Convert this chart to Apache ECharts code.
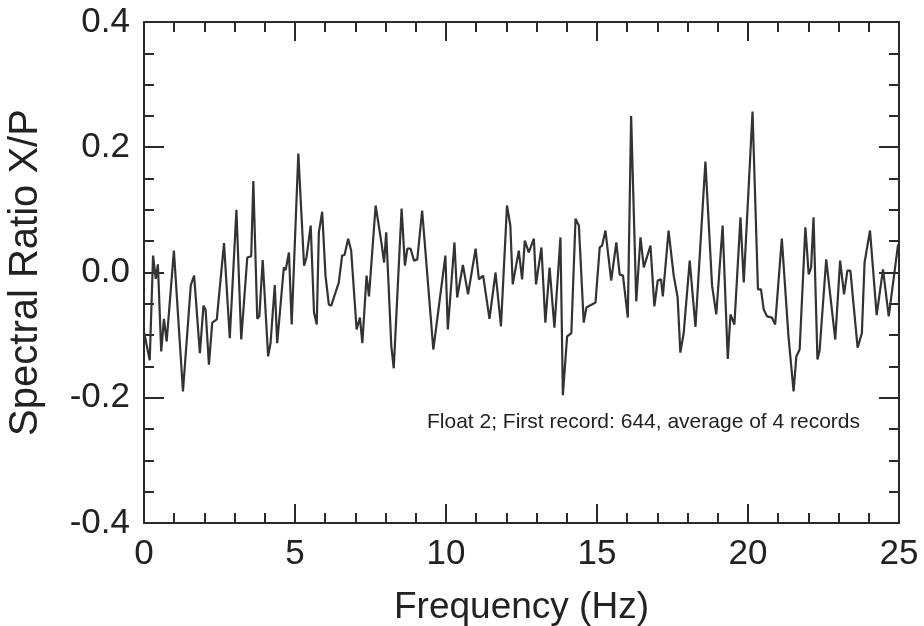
<!DOCTYPE html>
<html>
<head>
<meta charset="utf-8">
<script src="https://cdn.jsdelivr.net/npm/echarts@6/dist/echarts.min.js"></script>
<style>html,body{margin:0;padding:0;background:#fff}#c{width:924px;height:626px}</style>
</head>
<body>
<div id="c"></div>
<script>
// Frequency (Hz) of each vertex of the trace
var freqs = [
0.00,0.19,0.30,0.39,0.46,0.57,0.66,0.75,0.99,1.29,1.55,1.66,1.85,1.97,2.04,2.15,2.26,2.41,2.65,2.84,
3.06,3.22,3.42,3.55,3.62,3.75,3.82,3.93,4.11,4.19,4.33,4.41,4.63,4.69,4.80,4.89,5.11,5.30,5.38,5.52,
5.63,5.72,5.79,5.90,6.01,6.12,6.20,6.45,6.56,6.64,6.76,6.86,7.04,7.15,7.23,7.37,7.45,7.67,7.86,7.95,
8.02,8.19,8.27,8.53,8.64,8.72,8.83,8.94,9.05,9.21,9.58,9.98,10.06,10.28,10.37,10.56,10.73,10.98,11.09,11.23,
11.44,11.64,11.82,12.02,12.13,12.21,12.41,12.52,12.61,12.74,12.80,12.91,12.98,13.16,13.29,13.43,13.59,13.79,13.87,14.01,
14.15,14.29,14.40,14.56,14.65,14.95,15.09,15.17,15.28,15.47,15.64,15.75,15.86,16.02,16.13,16.30,16.44,16.55,16.77,16.90,
17.01,17.12,17.18,17.37,17.54,17.67,17.76,17.87,18.07,18.26,18.59,18.81,18.95,19.16,19.33,19.42,19.55,19.75,19.86,20.15,
20.33,20.43,20.52,20.63,20.79,20.90,21.12,21.34,21.51,21.60,21.71,21.90,22.01,22.09,22.17,22.30,22.37,22.59,22.89,23.05,
23.18,23.29,23.39,23.63,23.77,23.86,24.04,24.26,24.47,24.66,24.97
];
// Spectral ratio X/P at each vertex
var ratios = [
-0.095,-0.140,0.027,-0.010,0.013,-0.126,-0.074,-0.110,0.035,-0.190,-0.020,-0.005,-0.129,-0.053,-0.060,-0.147,-0.080,-0.075,0.047,-0.105,
0.100,-0.107,0.024,0.026,0.146,-0.074,-0.070,0.020,-0.134,-0.113,-0.020,-0.113,0.008,0.004,0.032,-0.083,0.190,0.011,0.024,0.075,
-0.064,-0.083,0.064,0.097,-0.005,-0.051,-0.053,-0.016,0.027,0.028,0.054,0.035,-0.091,-0.072,-0.113,-0.005,-0.038,0.107,0.048,0.016,
0.064,-0.118,-0.153,0.102,0.011,0.038,0.038,0.019,0.021,0.099,-0.123,0.027,-0.091,0.048,-0.040,0.012,-0.035,0.038,-0.011,-0.005,
-0.074,0.000,-0.086,0.107,0.075,-0.019,0.035,-0.011,0.051,0.032,0.030,0.054,-0.019,0.040,-0.080,0.008,-0.088,0.056,-0.196,-0.102,
-0.097,0.086,0.075,-0.080,-0.056,-0.048,0.040,0.043,0.067,-0.013,0.048,-0.003,-0.005,-0.072,0.250,-0.046,0.056,0.008,0.043,-0.054,
-0.013,-0.011,-0.038,0.067,-0.005,-0.040,-0.128,-0.097,0.019,-0.087,0.177,-0.021,-0.067,0.075,-0.138,-0.067,-0.083,0.088,-0.016,0.257,
-0.027,-0.027,-0.059,-0.070,-0.072,-0.083,0.054,-0.102,-0.190,-0.134,-0.123,0.072,-0.003,0.008,0.088,-0.139,-0.125,0.021,-0.107,0.019,
-0.035,0.003,0.003,-0.120,-0.097,0.016,0.067,-0.068,0.005,-0.070,0.045
];
var xTicks = [0, 5, 10, 15, 20, 25];
var yTicks = [-0.4, -0.2, 0.0, 0.2, 0.4];
var annotation = 'Float 2; First record: 644, average of 4 records';

var font = 'Liberation Sans, Arial, Helvetica, sans-serif';
var axisCol = '#2a2a2a';
var data = freqs.map(function (f, i) { return [f, ratios[i]]; });

function xAxisCfg(show, pos) {
  return {
    type: 'value', position: pos, min: xTicks[0], max: xTicks[xTicks.length - 1], interval: 5,
    axisLine: { show: true, onZero: false, lineStyle: { color: axisCol, width: 2 } },
    axisTick: { show: true, inside: true, length: 19, lineStyle: { color: axisCol, width: 2 } },
    minorTick: { show: true, splitNumber: 5, length: 10, lineStyle: { color: axisCol, width: 2 } },
    splitLine: { show: false }, minorSplitLine: { show: false },
    axisLabel: { show: show, margin: 14, fontSize: 35, color: '#222', fontFamily: font },
    name: show ? 'Frequency (Hz)' : '', nameLocation: 'middle', nameGap: 66,
    nameTextStyle: { fontSize: 37, color: '#222', fontFamily: font }
  };
}
function yAxisCfg(show, pos) {
  return {
    type: 'value', position: pos, min: yTicks[0], max: yTicks[yTicks.length - 1], interval: 0.2,
    axisLine: { show: true, onZero: false, lineStyle: { color: axisCol, width: 2 } },
    axisTick: { show: true, inside: true, length: 20, lineStyle: { color: axisCol, width: 2 } },
    minorTick: { show: true, splitNumber: 4, length: 10, lineStyle: { color: axisCol, width: 2 } },
    splitLine: { show: false }, minorSplitLine: { show: false },
    axisLabel: { show: show, margin: 14, fontSize: 35, color: '#222', fontFamily: font,
      formatter: function (v) { return (Math.abs(v) < 1e-9 ? 0 : v).toFixed(1); } },
    name: show ? 'Spectral Ratio X/P' : '', nameLocation: 'middle', nameGap: 98,
    nameTextStyle: { fontSize: 40, color: '#222', fontFamily: font }
  };
}

var chart = echarts.init(document.getElementById('c'), null, { renderer: 'canvas' });
chart.setOption({
  backgroundColor: '#fff',
  animation: false,
  grid: { left: 144, right: 25, top: 22, bottom: 103, containLabel: false, outerBoundsMode: 'none' },
  xAxis: [xAxisCfg(true, 'bottom'), xAxisCfg(false, 'top')],
  yAxis: [yAxisCfg(true, 'left'), yAxisCfg(false, 'right')],
  graphic: [{
    type: 'text', left: 427, top: 412,
    style: { text: annotation, fontSize: 21, fill: '#222', fontFamily: font }
  }],
  series: [{
    type: 'line', xAxisIndex: 0, yAxisIndex: 0, data: data,
    showSymbol: false, symbol: 'none',
    lineStyle: { color: '#333', width: 2.2 }
  }]
});
</script>
</body>
</html>
